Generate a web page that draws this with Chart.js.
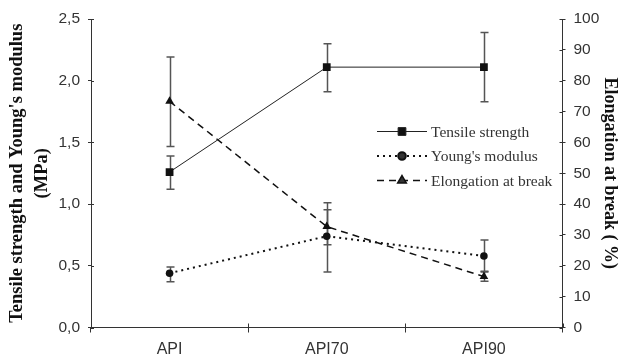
<!DOCTYPE html>
<html>
<head>
<meta charset="utf-8">
<script src="https://cdn.jsdelivr.net/npm/chart.js@4/dist/chart.umd.min.js"></script>
<style>
html,body{margin:0;padding:0;background:#fff;}
#wrap{width:619px;height:356px;}
</style>
</head>
<body>
<div id="wrap"><canvas id="c" width="619" height="356"></canvas></div>
<script>
// ---- data ----
const categories = ['API', 'API70', 'API90'];
const seriesNames = ['Tensile strength', "Young's modulus", 'Elongation at break'];
const tensile = [1.26, 2.11, 2.11];
const tensileLow = [1.12, 1.91, 1.83];
const tensileHigh = [1.39, 2.30, 2.39];
const young = [0.44, 0.74, 0.58];
const youngLow = [0.37, 0.45, 0.45];
const youngHigh = [0.49, 1.01, 0.71];
const elongation = [73.3, 32.7, 16.5];
const elongationLow = [58.7, 26.8, 15.0];
const elongationHigh = [87.7, 38.2, 18.2];
const leftTickLabels = ['0,0', '0,5', '1,0', '1,5', '2,0', '2,5'];
const rightTickLabels = ['0', '10', '20', '30', '40', '50', '60', '70', '80', '90', '100'];
const leftTitle = ["Tensile strength and Young's modulus", '(MPa)'];
const rightTitle = 'Elongation at break ( %)';

const AXIS = '#333';
const TICKFONT = {family: "'Liberation Sans', Arial, sans-serif", size: 15.5};

const errorBars = {
  id: 'errorBars',
  beforeDatasetsDraw(chart) {
    const ctx = chart.ctx;
    ctx.save();
    chart.data.datasets.forEach((ds, di) => {
      const meta = chart.getDatasetMeta(di);
      const ys = chart.scales[ds.yAxisID];
      meta.data.forEach((pt, i) => {
        const x = Math.round(pt.x) + 0.5;
        const yHi = ys.getPixelForValue(ds.errHigh[i]);
        const yLo = ys.getPixelForValue(ds.errLow[i]);
        ctx.strokeStyle = '#555';
        ctx.lineWidth = 1.5;
        ctx.setLineDash([]);
        ctx.beginPath();
        ctx.moveTo(x, yHi); ctx.lineTo(x, yLo);
        ctx.moveTo(x - 4, yHi); ctx.lineTo(x + 4, yHi);
        ctx.moveTo(x - 4, yLo); ctx.lineTo(x + 4, yLo);
        ctx.stroke();
      });
    });
    ctx.restore();
  }
};

const innerTicks = {
  id: 'innerTicks',
  afterDraw(chart) {
    const ctx = chart.ctx;
    const a = chart.chartArea;
    ctx.save();
    ctx.strokeStyle = AXIS;
    ctx.lineWidth = 1;
    ctx.setLineDash([]);
    ctx.beginPath();
    const yl = chart.scales.y, yr = chart.scales.y1, xs = chart.scales.x;
    yl.ticks.forEach((t, i) => { const p = Math.round(yl.getPixelForTick(i)) + 0.5; ctx.moveTo(a.left, p); ctx.lineTo(a.left + 3, p); });
    yr.ticks.forEach((t, i) => { const p = Math.round(yr.getPixelForTick(i)) + 0.5; ctx.moveTo(a.right, p); ctx.lineTo(a.right - 3, p); });
    const step = xs.getPixelForValue(1) - xs.getPixelForValue(0);
    for (let i = 0; i <= categories.length; i++) {
      const p = Math.round(xs.getPixelForValue(0) - step / 2 + i * step) + 0.5;
      ctx.moveTo(p, a.bottom); ctx.lineTo(p, a.bottom - 4);
    }
    ctx.stroke();
    ctx.restore();
  }
};

const customLegend = {
  id: 'customLegend',
  afterDraw(chart) {
    const ctx = chart.ctx;
    const x0 = 377, x1 = 427, tx = 431;
    const rows = [131.5, 156, 180.5];
    ctx.save();
    chart.data.datasets.forEach((ds, i) => {
      const y = rows[i];
      ctx.strokeStyle = ds.borderColor;
      ctx.lineWidth = ds.borderWidth;
      ctx.setLineDash(ds.borderDash || []);
      ctx.beginPath();
      ctx.moveTo(x0, y); ctx.lineTo(x1, y);
      ctx.stroke();
      ctx.setLineDash([]);
      Chart.helpers.drawPoint(ctx, {pointStyle: ds.pointStyle, radius: ds.pointRadius, borderWidth: 1}, (x0 + x1) / 2, y);
      ctx.fillStyle = '#333';
      ctx.font = "15.5px 'Liberation Serif', 'Times New Roman', serif";
      ctx.textBaseline = 'middle';
      ctx.textAlign = 'left';
      ctx.fillText(ds.label, tx, y + 1);
    });
    ctx.restore();
  }
};

// drawPoint uses ctx fill/stroke styles already set; set them before
const origDrawPoint = Chart.helpers.drawPoint;

new Chart(document.getElementById('c'), {
  type: 'line',
  data: {
    labels: categories,
    datasets: [
      {label: seriesNames[0], data: tensile, errLow: tensileLow, errHigh: tensileHigh, yAxisID: 'y',
       borderColor: '#222', backgroundColor: '#111', borderWidth: 1, borderDash: [],
       pointStyle: 'rect', pointRadius: 5.5, pointBorderColor: '#111', pointBackgroundColor: '#111', pointBorderWidth: 0},
      {label: seriesNames[1], data: young, errLow: youngLow, errHigh: youngHigh, yAxisID: 'y',
       borderColor: '#111', backgroundColor: '#111', borderWidth: 2, borderDash: [2, 4],
       pointStyle: 'circle', pointRadius: 3.8, pointBorderColor: '#111', pointBackgroundColor: '#111', pointBorderWidth: 0},
      {label: seriesNames[2], data: elongation, errLow: elongationLow, errHigh: elongationHigh, yAxisID: 'y1',
       borderColor: '#111', backgroundColor: '#111', borderWidth: 1.5, borderDash: [7, 5],
       pointStyle: 'triangle', pointRadius: 5, pointBorderColor: '#111', pointBackgroundColor: '#111', pointBorderWidth: 0}
    ]
  },
  options: {
    responsive: false,
    devicePixelRatio: 1,
    animation: false,
    layout: {padding: {top: 19, left: 0, right: 0, bottom: 0}},
    plugins: {legend: {display: false}, tooltip: {enabled: false}},
    elements: {line: {tension: 0, fill: false}},
    scales: {
      x: {
        offset: true,
        grid: {offset: true, drawOnChartArea: false, color: AXIS, tickLength: 5, tickColor: AXIS},
        border: {color: AXIS, width: 1},
        ticks: {color: '#333', font: {family: TICKFONT.family, size: 16}, padding: 7, maxRotation: 0},
        afterFit: s => { s.height = 28.5; }
      },
      y: {
        position: 'left', min: 0, max: 2.5,
        grid: {drawOnChartArea: false, color: AXIS, tickLength: 3, tickColor: AXIS},
        border: {color: AXIS, width: 1},
        ticks: {stepSize: 0.5, color: '#333', font: TICKFONT, padding: 8, callback: (v, i) => leftTickLabels[i]},
        title: {display: true, text: leftTitle, color: '#111',
          font: {family: "'Liberation Serif', 'Times New Roman', serif", size: 18.5, weight: 'bold', lineHeight: 1.35},
          padding: {top: 5, bottom: 0}},
        afterFit: s => { s.width = 91; }
      },
      y1: {
        position: 'right', min: 0, max: 100,
        grid: {drawOnChartArea: false, color: AXIS, tickLength: 3, tickColor: AXIS},
        border: {color: AXIS, width: 1},
        ticks: {stepSize: 10, color: '#333', font: TICKFONT, padding: 8, callback: (v, i) => rightTickLabels[i]},
        title: {display: true, text: rightTitle, color: '#111',
          font: {family: "'Liberation Serif', 'Times New Roman', serif", size: 18, weight: 'bold', lineHeight: 1},
          padding: {top: 0, bottom: 0}},
        afterFit: s => { s.width = 56.5; }
      }
    }
  },
  plugins: [errorBars, innerTicks, {
    id: 'legendStyle',
    afterDraw(chart) {
      chart.ctx.fillStyle = '#111';
      chart.ctx.strokeStyle = '#111';
    }
  }, customLegend]
});
</script>
</body>
</html>
